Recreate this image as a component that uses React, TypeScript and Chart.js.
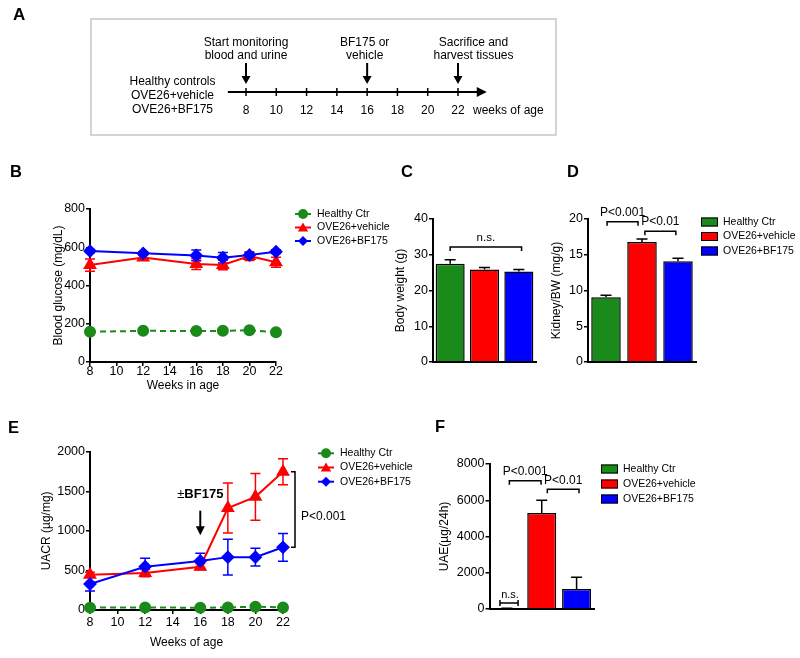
import React, { useEffect, useRef } from 'react';
import { Chart, registerables } from 'chart.js';

Chart.register(...registerables);

const FONT = "'Liberation Sans', Arial, Helvetica, sans-serif";
Chart.defaults.font.family = FONT;
Chart.defaults.color = '#000';

// ---------------- Data ----------------
const groups = ['Healthy Ctr', 'OVE26+vehicle', 'OVE26+BF175'];
const groupColors = ['#1a8a1a', '#ff0000', '#0000ff'];
const groupMarkers = ['circle', 'triangle', 'rectRot'];

// Panel A (timeline)
const timelineWeeks = [8, 10, 12, 14, 16, 18, 20, 22];
const timelineGroups = ['Healthy controls', 'OVE26+vehicle', 'OVE26+BF175'];
const eventWeeks = [8, 16, 22];
const eventLabels = [
  ['Start monitoring', 'blood and urine'],
  ['BF175 or', 'vehicle'],
  ['Sacrifice and', 'harvest tissues'],
];

// Panel B (blood glucose, mg/dL)
const weeks = [8, 12, 16, 18, 20, 22];
const glucoseHealthy = [158, 163, 162, 163, 166, 156];
const glucoseHealthyErr = [5, 5, 5, 5, 6, 5];
const glucoseVehicle = [507, 547, 512, 507, 554, 522];
const glucoseVehicleErr = [32, 14, 28, 25, 23, 26];
const glucoseBF175 = [580, 568, 557, 545, 559, 577];
const glucoseBF175Err = [8, 8, 28, 27, 12, 10];

// Panel C (body weight, g)
const bodyWeight = [27.5, 25.9, 25.3];
const bodyWeightErr = [1.1, 0.5, 0.6];

// Panel D (kidney / BW, mg/g)
const kidneyBW = [9.05, 16.8, 14.1];
const kidneyBWErr = [0.3, 0.4, 0.4];

// Panel E (UACR, ug/mg)
const uacrHealthy = [30, 33, 28, 32, 42, 32];
const uacrHealthyErr = [8, 8, 8, 8, 10, 8];
const uacrVehicle = [445, 466, 547, 1288, 1430, 1746];
const uacrVehicleErr = [32, 46, 38, 315, 295, 165];
const uacrBF175 = [328, 547, 619, 668, 668, 792];
const uacrBF175Err = [88, 108, 98, 225, 112, 175];

// Panel F (UAE, ug/24h)
const uae = [30, 5300, 1100];
const uaeErr = [15, 700, 650];

// ---------------- Helpers ----------------
const tickFont = { family: FONT, size: 12.5 };
const titleFont = { family: FONT, size: 12 };
const AXIS_W = 2;

function drawText(ctx: any, s: string, x: number, y: number, size: number, opts: any = {}) {
  ctx.save();
  ctx.font = `${opts.weight || 'normal'} ${size}px ${FONT}`;
  ctx.fillStyle = opts.color || '#000';
  ctx.textAlign = opts.align || 'center';
  ctx.textBaseline = 'middle';
  ctx.fillText(s, x, y);
  ctx.restore();
}

function drawMarker(ctx: any, style: string, x: number, y: number, r: number, color: string) {
  ctx.save();
  ctx.fillStyle = color;
  ctx.beginPath();
  if (style === 'circle') {
    ctx.arc(x, y, r, 0, Math.PI * 2);
  } else if (style === 'triangle') {
    ctx.moveTo(x, y - r);
    ctx.lineTo(x + r * 0.866, y + r * 0.5);
    ctx.lineTo(x - r * 0.866, y + r * 0.5);
    ctx.closePath();
  } else {
    ctx.moveTo(x - r, y);
    ctx.lineTo(x, y - r);
    ctx.lineTo(x + r, y);
    ctx.lineTo(x, y + r);
    ctx.closePath();
  }
  ctx.fill();
  ctx.restore();
}

function arrowDown(ctx: any, x: number, y1: number, y2: number, head = 8, half = 4.5, lw = 2) {
  ctx.save();
  ctx.strokeStyle = '#000';
  ctx.fillStyle = '#000';
  ctx.lineWidth = lw;
  ctx.beginPath();
  ctx.moveTo(x, y1);
  ctx.lineTo(x, y2 - head + 1);
  ctx.stroke();
  ctx.beginPath();
  ctx.moveTo(x, y2);
  ctx.lineTo(x - half, y2 - head);
  ctx.lineTo(x + half, y2 - head);
  ctx.closePath();
  ctx.fill();
  ctx.restore();
}

function lineLegend(ctx: any, x0: number, y0: number, dy: number) {
  groups.forEach((g, i) => {
    const y = y0 + dy * i;
    const c = groupColors[i];
    ctx.save();
    ctx.strokeStyle = c;
    ctx.lineWidth = 2;
    ctx.beginPath();
    ctx.moveTo(x0, y);
    ctx.lineTo(x0 + 16, y);
    ctx.stroke();
    ctx.restore();
    drawMarker(ctx, groupMarkers[i], x0 + 8, y + (i === 1 ? 1 : 0), i === 1 ? 6 : 5, c);
    drawText(ctx, g, x0 + 22, y, 10.5, { align: 'left' });
  });
}

function boxLegend(ctx: any, x0: number, y0: number, dy: number) {
  groups.forEach((g, i) => {
    const y = y0 + dy * i;
    ctx.save();
    ctx.fillStyle = groupColors[i];
    ctx.fillRect(x0, y - 4.5, 17, 9);
    ctx.strokeStyle = '#000';
    ctx.lineWidth = 1;
    ctx.strokeRect(x0 + 0.5, y - 4, 16, 8);
    ctx.restore();
    drawText(ctx, g, x0 + 22, y, 10.5, { align: 'left' });
  });
}

function bracket(ctx: any, xs: any, ys: any, b: any) {
  const x1 = xs.getPixelForValue(b.from);
  const x2 = xs.getPixelForValue(b.to);
  const y = ys.getPixelForValue(b.y);
  ctx.save();
  ctx.strokeStyle = '#000';
  ctx.lineWidth = 1.5;
  ctx.beginPath();
  ctx.moveTo(x1, y + 4);
  ctx.lineTo(x1, y);
  ctx.lineTo(x2, y);
  ctx.lineTo(x2, y + 4);
  ctx.stroke();
  ctx.restore();
  drawText(ctx, b.label, (x1 + x2) / 2, y - 9, b.size || 12);
}

const errorBarPlugin = {
  id: 'errorBars',
  beforeDatasetsDraw(chart: any) {
    const ctx = chart.ctx;
    chart.data.datasets.forEach((ds: any, di: number) => {
      if (!ds.errorBars) return;
      const meta = chart.getDatasetMeta(di);
      const yScale = chart.scales[meta.yAxisID];
      ctx.save();
      ctx.lineWidth = 1.5;
      ctx.strokeStyle = ds.errorColor || ds.borderColor;
      const cap = ds.errorCap || 5;
      meta.data.forEach((el: any, j: number) => {
        const raw = ds.data[j];
        const v = typeof raw === 'number' ? raw : raw.y;
        const e = ds.errorBars[j];
        const x = el.x;
        const yTop = yScale.getPixelForValue(v + e);
        const yBot = yScale.getPixelForValue(ds.errorUpOnly ? v : v - e);
        ctx.beginPath();
        ctx.moveTo(x, yTop);
        ctx.lineTo(x, yBot);
        ctx.moveTo(x - cap, yTop);
        ctx.lineTo(x + cap, yTop);
        if (!ds.errorUpOnly) {
          ctx.moveTo(x - cap, yBot);
          ctx.lineTo(x + cap, yBot);
        }
        ctx.stroke();
      });
      ctx.restore();
    });
  },
};

const gridOpts = { display: true, drawOnChartArea: false, drawTicks: true, tickLength: 4, color: '#000', lineWidth: 1.5 };
const borderOpts = { display: true, color: '#000', width: AXIS_W };

function yAxis(min: number, max: number, step: number, title: string, width: number) {
  return {
    type: 'linear',
    position: 'left',
    min,
    max,
    ticks: { stepSize: step, color: '#000', font: tickFont, padding: 1, callback: (v: any) => String(v) },
    grid: gridOpts,
    border: borderOpts,
    title: { display: true, text: title, color: '#000', font: titleFont, padding: 0 },
    afterFit: (s: any) => {
      s.width = width;
    },
  };
}

function xWeeks(title: string, height: number, pad: number) {
  return {
    type: 'linear',
    position: 'bottom',
    min: 8,
    max: 22,
    ticks: { stepSize: 2, color: '#000', font: tickFont, padding: pad, maxRotation: 0, autoSkip: false, callback: (v: any) => String(v) },
    grid: gridOpts,
    border: borderOpts,
    title: { display: true, text: title, color: '#000', font: titleFont, padding: 0 },
    afterFit: (s: any) => {
      s.height = height;
    },
  };
}

function xCategory(height: number) {
  return {
    type: 'category',
    offset: true,
    ticks: { display: false },
    grid: { display: false },
    border: borderOpts,
    afterFit: (s: any) => {
      s.height = height;
    },
  };
}

function lineDataset(label: string, ys: number[], errs: number[], idx: number, order: number) {
  const c = groupColors[idx];
  return {
    label,
    data: weeks.map((w, i) => ({ x: w, y: ys[i] })),
    borderColor: c,
    backgroundColor: c,
    pointBackgroundColor: c,
    pointBorderColor: c,
    pointStyle: groupMarkers[idx],
    pointRadius: idx === 1 ? 6 : idx === 2 ? 5.5 : 5,
    pointHoverRadius: 0,
    borderWidth: 2,
    borderDash: idx === 0 ? [6, 4] : [],
    tension: 0,
    fill: false,
    clip: 30,
    order,
    errorBars: errs,
    errorCap: 5,
  };
}

function barDataset(values: number[], errs: number[], pct: number) {
  return {
    data: values,
    backgroundColor: groupColors,
    borderColor: '#000',
    borderWidth: 1.5,
    barPercentage: pct,
    categoryPercentage: 1,
    errorBars: errs,
    errorUpOnly: true,
    errorColor: '#000',
    errorCap: 5.5,
  };
}

const baseOptions = (padding: any) => ({
  responsive: false,
  animation: false,
  events: [],
  layout: { padding },
  plugins: { legend: { display: false }, tooltip: { enabled: false } },
});

// ---------------- Chart configs ----------------
function configA() {
  return {
    type: 'scatter',
    data: { datasets: [{ data: timelineWeeks.map((w) => ({ x: w, y: 0 })), pointRadius: 0 }] },
    options: {
      ...baseOptions({ left: 246, right: 342, top: 0, bottom: 0 }),
      scales: {
        x: { type: 'linear', min: 8, max: 22, display: false },
        y: { type: 'linear', min: -1, max: 1, display: false },
      },
    },
    plugins: [
      {
        id: 'timeline',
        afterDraw(chart: any) {
          const ctx = chart.ctx;
          const px = (w: number) => chart.scales.x.getPixelForValue(w);
          drawText(ctx, 'A', 13, 15, 17, { weight: 'bold', align: 'left' });
          ctx.save();
          ctx.strokeStyle = '#c6c6c6';
          ctx.lineWidth = 1.5;
          ctx.strokeRect(91, 19, 465, 116);
          const ly = 92;
          ctx.strokeStyle = '#000';
          ctx.fillStyle = '#000';
          ctx.lineWidth = 2;
          ctx.beginPath();
          ctx.moveTo(px(6.8), ly);
          ctx.lineTo(px(23.4), ly);
          ctx.stroke();
          ctx.beginPath();
          ctx.moveTo(px(23.9), ly);
          ctx.lineTo(px(23.9) - 10, ly - 5);
          ctx.lineTo(px(23.9) - 10, ly + 5);
          ctx.closePath();
          ctx.fill();
          ctx.lineWidth = 1.5;
          timelineWeeks.forEach((w) => {
            ctx.beginPath();
            ctx.moveTo(px(w), ly - 4);
            ctx.lineTo(px(w), ly + 4);
            ctx.stroke();
          });
          ctx.restore();
          timelineWeeks.forEach((w) => drawText(ctx, String(w), px(w), 111, 12));
          drawText(ctx, 'weeks of age', px(22) + 15, 111, 12, { align: 'left' });
          timelineGroups.forEach((g, i) => drawText(ctx, g, 172.5, 82 + 14 * i, 12));
          const offsets = [0, -2.5, 15.5];
          eventWeeks.forEach((w, i) => {
            arrowDown(ctx, px(w), 63, 84, 8, 4.5, 2);
            eventLabels[i].forEach((s, k) => drawText(ctx, s, px(w) + offsets[i], 43 + 13 * k, 12));
          });
        },
      },
    ],
  };
}

function configB() {
  return {
    type: 'line',
    data: {
      datasets: [
        lineDataset(groups[0], glucoseHealthy, glucoseHealthyErr, 0, 0),
        lineDataset(groups[1], glucoseVehicle, glucoseVehicleErr, 1, 2),
        lineDataset(groups[2], glucoseBF175, glucoseBF175Err, 2, 1),
      ],
    },
    options: {
      ...baseOptions({ left: 51, top: 59, right: 119, bottom: 7 }),
      scales: {
        x: xWeeks('Weeks in age', 31, -2),
        y: yAxis(0, 800, 200, 'Blood glucose (mg/dL)', 39),
      },
    },
    plugins: [
      errorBarPlugin,
      {
        id: 'decorB',
        afterDraw(chart: any) {
          const ctx = chart.ctx;
          drawText(ctx, 'B', 10, 22, 16.5, { weight: 'bold', align: 'left' });
          lineLegend(ctx, 295, 64, 13.5);
        },
      },
    ],
  };
}

function configC() {
  return {
    type: 'bar',
    data: { labels: groups, datasets: [barDataset(bodyWeight, bodyWeightErr, 0.845)] },
    options: {
      ...baseOptions({ left: 8, top: 69, right: 9, bottom: 0 }),
      scales: {
        x: xCategory(38),
        y: yAxis(0, 40, 10, 'Body weight (g)', 40),
      },
    },
    plugins: [
      errorBarPlugin,
      {
        id: 'decorC',
        afterDraw(chart: any) {
          const ctx = chart.ctx;
          drawText(ctx, 'C', 16, 22, 16.5, { weight: 'bold', align: 'left' });
          bracket(ctx, chart.scales.x, chart.scales.y, { from: 0, to: 2.08, y: 32.2, label: 'n.s.', size: 11.5 });
        },
      },
    ],
  };
}

function configD() {
  return {
    type: 'bar',
    data: { labels: groups, datasets: [barDataset(kidneyBW, kidneyBWErr, 0.82)] },
    options: {
      ...baseOptions({ left: 4.5, top: 69, right: 104, bottom: 0 }),
      scales: {
        x: xCategory(38),
        y: yAxis(0, 20, 5, 'Kidney/BW (mg/g)', 38.5),
      },
    },
    plugins: [
      errorBarPlugin,
      {
        id: 'decorD',
        afterDraw(chart: any) {
          const ctx = chart.ctx;
          drawText(ctx, 'D', 22, 22, 16.5, { weight: 'bold', align: 'left' });
          bracket(ctx, chart.scales.x, chart.scales.y, { from: 0.03, to: 0.89, y: 19.6, label: 'P<0.001' });
          bracket(ctx, chart.scales.x, chart.scales.y, { from: 1.08, to: 1.94, y: 18.3, label: 'P<0.01' });
          boxLegend(ctx, 156, 72, 14.5);
        },
      },
    ],
  };
}

function configE() {
  return {
    type: 'line',
    data: {
      datasets: [
        lineDataset(groups[0], uacrHealthy, uacrHealthyErr, 0, 0),
        lineDataset(groups[1], uacrVehicle, uacrVehicleErr, 1, 2),
        lineDataset(groups[2], uacrBF175, uacrBF175Err, 2, 1),
      ],
    },
    options: {
      ...baseOptions({ left: 39.5, top: 46.7, right: 137, bottom: 7.8 }),
      scales: {
        x: xWeeks('Weeks of age', 40.2, 1),
        y: yAxis(0, 2000, 500, 'UACR (\u00b5g/mg)', 50.5),
      },
    },
    plugins: [
      errorBarPlugin,
      {
        id: 'decorE',
        afterDraw(chart: any) {
          const ctx = chart.ctx;
          const xs = chart.scales.x;
          const ys = chart.scales.y;
          drawText(ctx, 'E', 8, 23, 16.5, { weight: 'bold', align: 'left' });
          // +/- BF175 annotation
          const ax = xs.getPixelForValue(16);
          ctx.save();
          ctx.font = `normal 13px ${FONT}`;
          const w1 = ctx.measureText('\u00b1').width;
          ctx.font = `bold 13px ${FONT}`;
          const w2 = ctx.measureText('BF175').width;
          ctx.restore();
          const sx = ax - (w1 + w2) / 2;
          const ty = ys.getPixelForValue(1460);
          drawText(ctx, '\u00b1', sx, ty, 13, { align: 'left' });
          drawText(ctx, 'BF175', sx + w1, ty, 13, { align: 'left', weight: 'bold' });
          arrowDown(ctx, ax, ys.getPixelForValue(1255), ys.getPixelForValue(945), 9, 4.5, 2);
          // P bracket at the last time point
          const xr = xs.getPixelForValue(weeks[weeks.length - 1]);
          const yt = ys.getPixelForValue(uacrVehicle[uacrVehicle.length - 1]);
          const yb = ys.getPixelForValue(uacrBF175[uacrBF175.length - 1]);
          ctx.save();
          ctx.strokeStyle = '#000';
          ctx.lineWidth = 1.5;
          ctx.beginPath();
          ctx.moveTo(xr + 8, yt);
          ctx.lineTo(xr + 12, yt);
          ctx.lineTo(xr + 12, yb);
          ctx.lineTo(xr + 8, yb);
          ctx.stroke();
          ctx.restore();
          drawText(ctx, 'P<0.001', xr + 18, (yt + yb) / 2 + 7, 12, { align: 'left' });
          lineLegend(ctx, 318, 48.3, 14.2);
        },
      },
    ],
  };
}

function configF() {
  return {
    type: 'bar',
    data: { labels: groups, datasets: [barDataset(uae, uaeErr, 0.833)] },
    options: {
      ...baseOptions({ left: 37.5, top: 59, right: 206, bottom: 0 }),
      scales: {
        x: xCategory(49),
        y: yAxis(0, 8000, 2000, 'UAE(\u00b5g/24h)', 52),
      },
    },
    plugins: [
      errorBarPlugin,
      {
        id: 'decorF',
        afterDraw(chart: any) {
          const ctx = chart.ctx;
          const xs = chart.scales.x;
          const ys = chart.scales.y;
          drawText(ctx, 'F', 35, 22, 16.5, { weight: 'bold', align: 'left' });
          bracket(ctx, xs, ys, { from: 0.07, to: 0.98, y: 7070, label: 'P<0.001' });
          bracket(ctx, xs, ys, { from: 1.16, to: 2.07, y: 6610, label: 'P<0.01' });
          // n.s. marker over the healthy bar
          const x1 = xs.getPixelForValue(-0.2);
          const x2 = xs.getPixelForValue(0.32);
          const y = ys.getPixelForValue(330);
          ctx.save();
          ctx.strokeStyle = '#000';
          ctx.lineWidth = 1.5;
          ctx.beginPath();
          ctx.moveTo(x1, y);
          ctx.lineTo(x2, y);
          ctx.moveTo(x1, y - 3);
          ctx.lineTo(x1, y + 3);
          ctx.moveTo(x2, y - 3);
          ctx.lineTo(x2, y + 3);
          ctx.stroke();
          ctx.restore();
          drawText(ctx, 'n.s.', (x1 + x2) / 2 + 1, y - 8, 11);
          boxLegend(ctx, 201, 64, 15);
        },
      },
    ],
  };
}

// ---------------- Components ----------------
function Panel({ left, top, width, height, make }: any) {
  const ref = useRef<HTMLCanvasElement>(null);
  useEffect(() => {
    const chart = new Chart(ref.current as any, make() as any);
    return () => chart.destroy();
  }, []);
  return (
    <canvas
      ref={ref}
      width={width}
      height={height}
      style={{ position: 'absolute', left, top, width, height, display: 'block' }}
    />
  );
}

export default function App() {
  return (
    <div style={{ position: 'absolute', left: 0, top: 0, width: 800, height: 658, background: '#fff', overflow: 'hidden' }}>
      <Panel left={0} top={0} width={800} height={150} make={configA} />
      <Panel left={0} top={150} width={395} height={250} make={configB} />
      <Panel left={385} top={150} width={160} height={250} make={configC} />
      <Panel left={545} top={150} width={255} height={250} make={configD} />
      <Panel left={0} top={405} width={420} height={253} make={configE} />
      <Panel left={400} top={405} width={400} height={253} make={configF} />
    </div>
  );
}
